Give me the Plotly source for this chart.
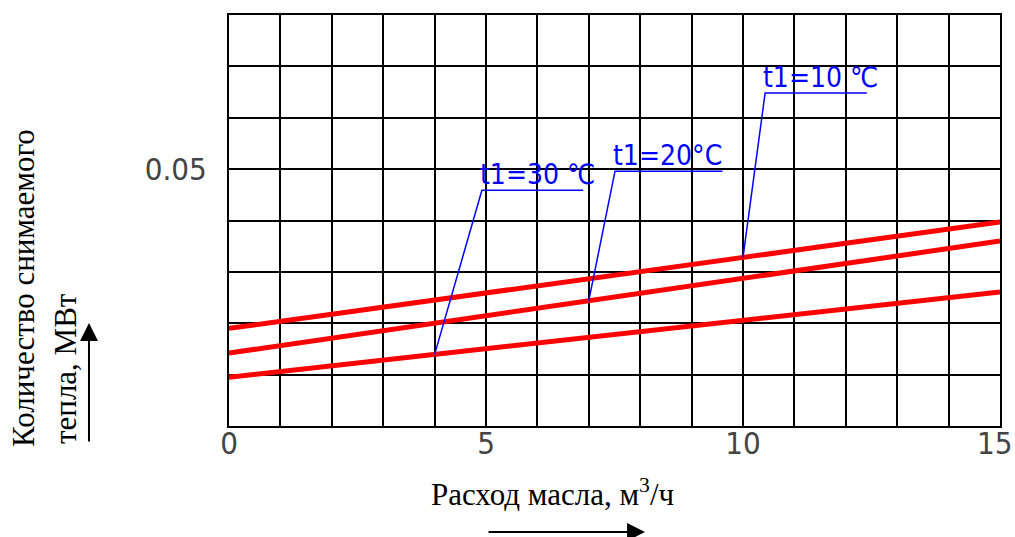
import plotly.graph_objects as go

# Data
flow = [0, 15]
q_t10 = [0.0190, 0.0397]
q_t20 = [0.0142, 0.0360]
q_t30 = [0.0095, 0.0261]

labels = ["t1=10 ℃", "t1=20°C", "t1=30 ℃"]
leader_x = [[10, 10.43, 12.41], [7, 7.51, 9.6], [4, 4.92, 6.89]]
leader_y = [[0.0328, 0.0648, 0.0648], [0.0244, 0.0496, 0.0496], [0.0139, 0.0459, 0.0459]]

x_ticks = [0, 5, 10, 15]
x_ticktext = ["0", "5", "10", "15"]
y_ticks = [0.05]
y_ticktext = ["0.05"]

fig = go.Figure()

for yv in [q_t10, q_t20, q_t30]:
    fig.add_trace(go.Scatter(x=flow, y=yv, mode="lines",
                             line=dict(color="#ff0000", width=5),
                             showlegend=False, hoverinfo="skip", cliponaxis=False))

for lx, ly in zip(leader_x, leader_y):
    fig.add_trace(go.Scatter(x=lx, y=ly, mode="lines",
                             line=dict(color="#0000ff", width=1.5),
                             showlegend=False, hoverinfo="skip"))

label_font = dict(family="DejaVu Sans Condensed, DejaVu Sans",
                  size=28, color="#0000ff")
for lab, lx, ly in zip(labels, leader_x, leader_y):
    fig.add_annotation(x=lx[1], y=ly[1], xref="x", yref="y", text=lab,
                       showarrow=False, xanchor="left", yanchor="bottom",
                       xshift=-4, yshift=-3, font=label_font)

tick_font = dict(family="DejaVu Sans Condensed, DejaVu Sans",
                 size=31, color="#444444")
title_font = dict(family="Liberation Serif, Times New Roman, serif", size=31, color="black")

# axis tick labels 0, 5, 10 via the axis; the last one (at the right edge) as an
# annotation nudged left so it stays inside the page
fig.update_xaxes(range=[0, 15], tickvals=x_ticks[:-1], ticktext=x_ticktext[:-1],
                 showgrid=True, gridcolor="black", gridwidth=2,
                 minor=dict(dtick=1, showgrid=True, gridcolor="black", gridwidth=2),
                 showline=True, linecolor="black", linewidth=2, mirror=True,
                 zeroline=False, ticks="", tickfont=tick_font, automargin=False,
                 ticklabelstandoff=-11, ticklabeloverflow="allow")
fig.add_annotation(x=x_ticks[-1], y=0, xref="x", yref="paper", text=x_ticktext[-1],
                   showarrow=False, xanchor="center", yanchor="middle",
                   xshift=-6, yshift=-17, font=tick_font)
fig.update_yaxes(range=[0, 0.08], tickvals=y_ticks, ticktext=y_ticktext,
                 showgrid=True, gridcolor="black", gridwidth=2,
                 minor=dict(dtick=0.01, showgrid=True, gridcolor="black", gridwidth=2),
                 showline=True, linecolor="black", linewidth=2, mirror=True,
                 zeroline=False, ticks="", tickfont=tick_font, automargin=False,
                 ticklabelstandoff=14, ticklabeloverflow="allow")

# axis titles
fig.add_annotation(x=-0.2659, y=0.3358, xref="paper", yref="paper",
                   text="Количество снимаемого", textangle=-90, showarrow=False,
                   xanchor="center", yanchor="middle", font=title_font)
fig.add_annotation(x=-0.2114, y=0.1387, xref="paper", yref="paper",
                   text="тепла, МВт", textangle=-90, showarrow=False,
                   xanchor="center", yanchor="middle", font=title_font)
fig.add_annotation(x=0.420, y=-0.163, xref="paper", yref="paper",
                   text="Расход масла, м<sup>3</sup>/ч", showarrow=False,
                   xanchor="center", yanchor="middle", font=title_font)

# arrows
fig.add_annotation(x=-0.1816, y=0.2506, xref="paper", yref="paper", text="",
                   showarrow=True, ax=0, ay=120, arrowhead=2, arrowsize=1.8,
                   arrowwidth=2, arrowcolor="black")
fig.add_annotation(x=0.5396, y=-0.258, xref="paper", yref="paper", text="",
                   showarrow=True, ax=-158, ay=0, arrowhead=2, arrowsize=1.8,
                   arrowwidth=2, arrowcolor="black")

fig.update_layout(width=1015, height=537,
                  margin=dict(l=229, r=15, t=15, b=111, autoexpand=False),
                  paper_bgcolor="white", plot_bgcolor="white")

fig.write_html("out.html", config={"displayModeBar": False},
               post_script="document.body.style.margin='0';document.body.style.overflow='hidden';")
